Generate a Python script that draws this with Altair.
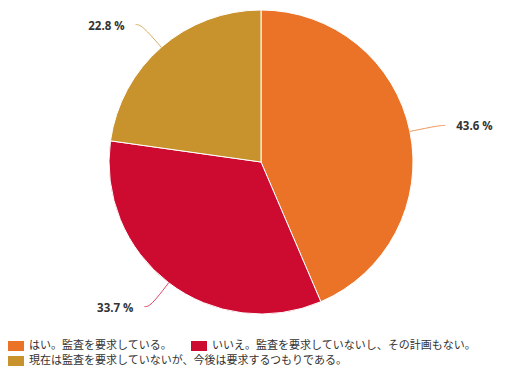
import math
import altair as alt
import pandas as pd

categories = [
    "はい。監査を要求している。",
    "いいえ。監査を要求していないし、その計画もない。",
    "現在は監査を要求していないが、今後は要求するつもりである。",
]
values = [43.6, 33.7, 22.8]
labels = ["43.6 %", "33.7 %", "22.8 %"]
colors = ["#EB7328", "#CD0A30", "#C8922C"]

W, H = 506, 300
R = 152
EXT = 30
HOR = 6
GAP = 11

pie_df = pd.DataFrame({"cat": categories, "val": values, "order": [0, 1, 2]})

# leader lines and label anchors derived from the slice angles
total = sum(values)
rows, lab_rows = [], []
cum = 0.0
for i, (c, v, lab) in enumerate(zip(categories, values, labels)):
    mid = (cum + v / 2) / total * 2 * math.pi
    cum += v
    sx, sy = math.sin(mid), -math.cos(mid)
    side = 1 if sx >= 0 else -1
    p0 = (R * sx, R * sy)
    p1 = ((R + EXT) * sx, (R + EXT) * sy)
    p2 = (p1[0] + side * HOR, p1[1])
    for k, p in enumerate([p0, p1, p2]):
        rows.append({"cat": c, "k": k, "x": p[0], "y": p[1]})
    lab_rows.append({"cat": c, "lab": lab, "x": p2[0] + side * GAP, "y": p2[1], "side": side})
line_df = pd.DataFrame(rows)
lab_df = pd.DataFrame(lab_rows)

color_scale = alt.Scale(domain=categories, range=colors)
xs = alt.Scale(domain=[-W / 2, W / 2], range=[0, W])
ys = alt.Scale(domain=[-H / 2, H / 2], range=[0, H])

legend_common = dict(
    title=None,
    orient="none",
    legendX=0,
    direction="horizontal",
    columnPadding=19,
    symbolType="M-1,-0.625L1,-0.625L1,0.625L-1,0.625Z",
    symbolSize=256,
    symbolStrokeWidth=0,
    symbolOpacity=1,
    labelFont="Noto Sans CJK JP",
    labelFontSize=11,
    labelColor="#333333",
    labelLimit=600,
    labelOffset=5,
)

pie = alt.Chart(pie_df).mark_arc(outerRadius=R, stroke="white", strokeWidth=1).encode(
    theta=alt.Theta("val:Q", stack=True),
    order=alt.Order("order:Q"),
    color=alt.Color(
        "cat:N",
        scale=color_scale,
        sort=categories,
        legend=alt.Legend(values=categories[:2], legendY=326, **legend_common),
    ),
)

legend2 = alt.Chart(pie_df).transform_filter(
    alt.datum.cat == categories[2]
).mark_square(size=0, opacity=0).encode(
    x=alt.X("order:Q", scale=xs, axis=None),
    y=alt.Y("order:Q", scale=ys, axis=None),
    fill=alt.Fill(
        "cat:N",
        scale=alt.Scale(domain=categories[2:], range=colors[2:]),
        legend=alt.Legend(legendY=341, **legend_common),
    ),
)

lines = alt.Chart(line_df).mark_line(interpolate="basis", strokeWidth=1, opacity=0.75).encode(
    x=alt.X("x:Q", scale=xs, axis=None),
    y=alt.Y("y:Q", scale=ys, axis=None),
    order="k:Q",
    color=alt.Color("cat:N", scale=color_scale, legend=None),
    detail="cat:N",
)

text_style = dict(baseline="middle", dy=2, font="Open Sans", fontWeight="bold", fontSize=11.5, color="#333333")

text_right = alt.Chart(lab_df).transform_filter("datum.side > 0").mark_text(
    align="left", **text_style
).encode(x=alt.X("x:Q", scale=xs, axis=None), y=alt.Y("y:Q", scale=ys, axis=None), text="lab:N")

text_left = alt.Chart(lab_df).transform_filter("datum.side < 0").mark_text(
    align="right", **text_style
).encode(x=alt.X("x:Q", scale=xs, axis=None), y=alt.Y("y:Q", scale=ys, axis=None), text="lab:N")

chart = (
    alt.layer(pie, legend2, lines, text_right, text_left)
    .properties(width=W, height=H, padding=0)
    .configure_view(stroke=None)
)

chart.save("out.html", embed_options={"renderer": "svg", "actions": False})
